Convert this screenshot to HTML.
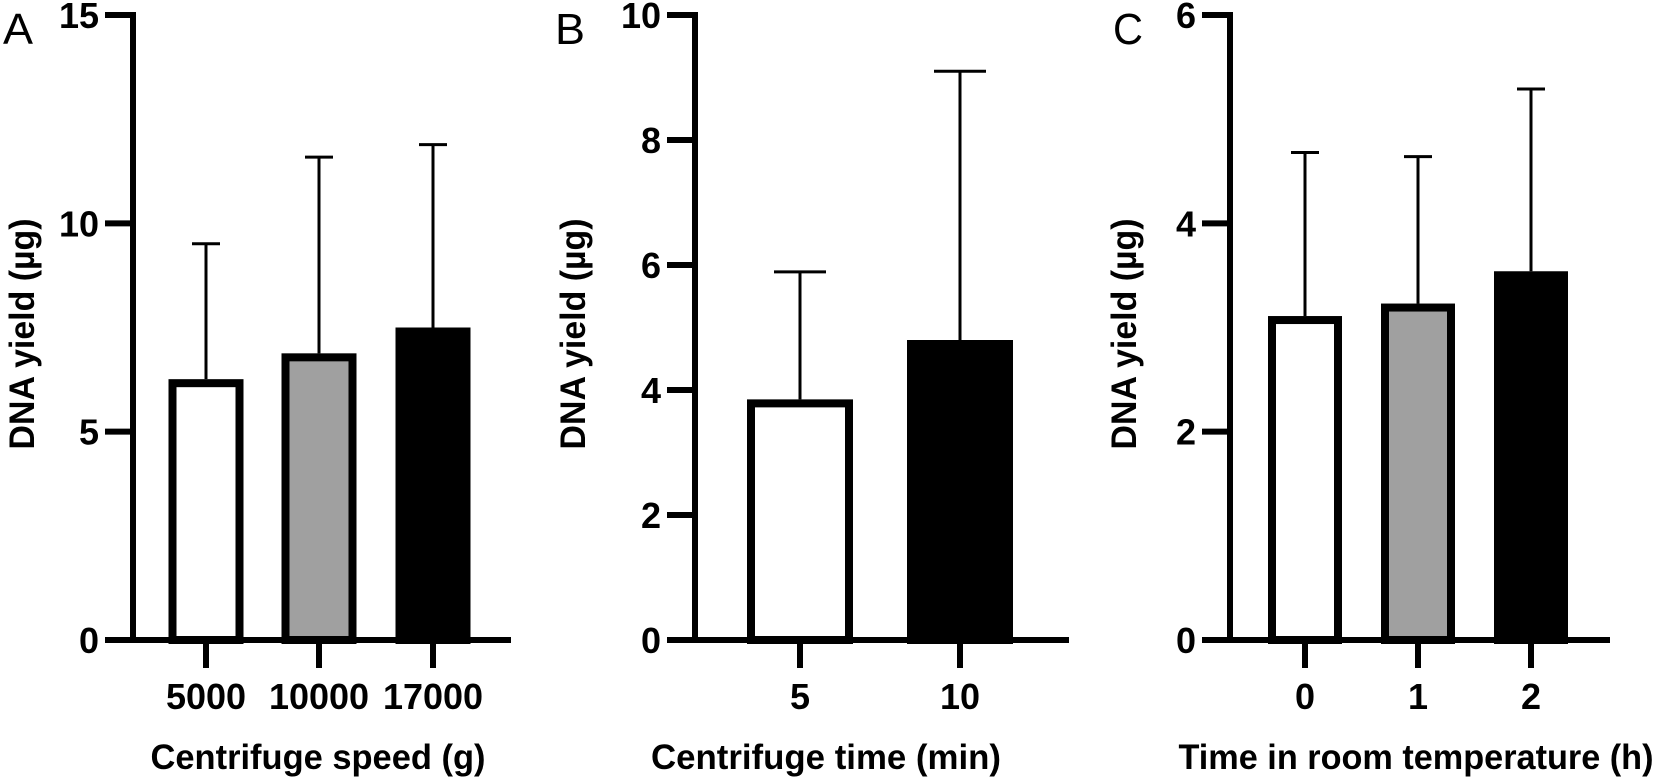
<!DOCTYPE html>
<html><head><meta charset="utf-8"><style>
html,body{margin:0;padding:0;background:#fff;}
svg{display:block;font-family:"Liberation Sans",Arial,sans-serif;}
</style></head><body>
<svg id="chart" width="1659" height="777" viewBox="0 0 1659 777" xmlns="http://www.w3.org/2000/svg"></svg>
<script>
// Panel A data
const catsA = ["5000", "10000", "17000"];
const meansA = [6.26, 6.88, 7.5];
const errA = [9.51, 11.59, 11.89];
const ticksA = [0, 5, 10, 15];
// Panel B data
const catsB = ["5", "10"];
const meansB = [3.85, 4.8];
const errB = [5.89, 9.1];
const ticksB = [0, 2, 4, 6, 8, 10];
// Panel C data
const catsC = ["0", "1", "2"];
const meansC = [3.11, 3.23, 3.54];
const errC = [4.68, 4.64, 5.29];
const ticksC = [0, 2, 4, 6];

const fills = { A: ["#fff", "#a0a0a0", "#000"], B: ["#fff", "#000"], C: ["#fff", "#a0a0a0", "#000"] };
const svg = document.getElementById('chart');
const NS = "http://www.w3.org/2000/svg";
function mk(tag, attrs, parent) {
  const e = document.createElementNS(NS, tag);
  for (const k in attrs) e.setAttribute(k, attrs[k]);
  (parent || svg).appendChild(e);
  return e;
}
function panel(p) {
  const g = mk('g', {});
  
  
  const y0 = 640, yTop = 15;
  const ymax = p.ticks[p.ticks.length - 1];
  const y = v => y0 - (v / ymax) * (y0 - yTop);
  const L = mk('text', { x: p.letterX, y: 44, 'font-size': 44, 'font-weight': 300, fill: '#000', textLength: 30, lengthAdjust: 'spacingAndGlyphs' }, g);
  L.textContent = p.id;
  
  
  const ax = mk('line', { x1: p.axisX, y1: yTop - 3, x2: p.axisX, y2: y0 + 3, stroke: '#000', 'stroke-width': 6 }, g);
  
  
  p.ticks.forEach(t => {
    const tk = mk('line', { x1: p.axisX - 28, y1: y(t), x2: p.axisX, y2: y(t), stroke: '#000', 'stroke-width': 6 }, g);
    
    
    const tl = mk('text', { x: p.axisX - 34, y: y(t) + 13, 'font-size': 36, 'font-weight': 'bold', 'text-anchor': 'end' }, g);
    tl.textContent = t;
    
    
  });
  p.means.forEach((m, i) => {
    const cx = p.centers[i];
    const eb = mk('line', { x1: cx, y1: y(m), x2: cx, y2: y(p.err[i]), stroke: '#000', 'stroke-width': 3 }, g);
    
    
    const cap = mk('line', { x1: cx - p.cap / 2, y1: y(p.err[i]), x2: cx + p.cap / 2, y2: y(p.err[i]), stroke: '#000', 'stroke-width': 3 }, g);
    
    
    const sw = 8;
    const r = mk('rect', { x: cx - p.bw / 2 + sw / 2, y: y(m) + sw / 2, width: p.bw - sw, height: y0 - y(m) - sw / 2, fill: p.fills[i], stroke: '#000', 'stroke-width': sw }, g);
    
    
    const xt = mk('line', { x1: cx, y1: y0, x2: cx, y2: 668, stroke: '#000', 'stroke-width': 6 }, g);
    
    
    const xl = mk('text', { x: cx, y: 709, 'font-size': 36, 'font-weight': 'bold', 'text-anchor': 'middle' }, g);
    xl.textContent = p.cats[i];
    
    
  });
  const bl = mk('line', { x1: p.axisX - 28, y1: y0, x2: p.baseEnd, y2: y0, stroke: '#000', 'stroke-width': 6 }, g);
  
  
  const xt = mk('text', { x: p.xlabX, y: 769, 'font-size': 35, 'font-weight': 'bold', 'text-anchor': 'middle', textLength: p.xlabW, lengthAdjust: 'spacingAndGlyphs' }, g);
  xt.textContent = p.xlab;
  
  
  const yt = mk('text', { x: 0, y: 0, 'font-size': 35, 'font-weight': 'bold', 'text-anchor': 'middle', textLength: 231, lengthAdjust: 'spacingAndGlyphs', transform: `translate(${p.ylabX},334) rotate(-90)` }, g);
  yt.textContent = 'DNA yield (µg)';
  
  
}
panel({ id: 'A', letterX: 3, axisX: 133, baseEnd: 511, ticks: ticksA, means: meansA, err: errA, cats: catsA, centers: [206, 319, 433], bw: 75, cap: 28, fills: fills.A, xlab: 'Centrifuge speed (g)', xlabX: 318, xlabW: 335, ylabX: 34 });
panel({ id: 'B', letterX: 555, axisX: 695, baseEnd: 1069, ticks: ticksB, means: meansB, err: errB, cats: catsB, centers: [800, 960], bw: 106, cap: 52, fills: fills.B, xlab: 'Centrifuge time (min)', xlabX: 826, xlabW: 350, ylabX: 585 });
panel({ id: 'C', letterX: 1113, axisX: 1230, baseEnd: 1610, ticks: ticksC, means: meansC, err: errC, cats: catsC, centers: [1305, 1418, 1531], bw: 74, cap: 28, fills: fills.C, xlab: 'Time in room temperature (h)', xlabX: 1416, xlabW: 475, ylabX: 1136 });
</script>
</body></html>
